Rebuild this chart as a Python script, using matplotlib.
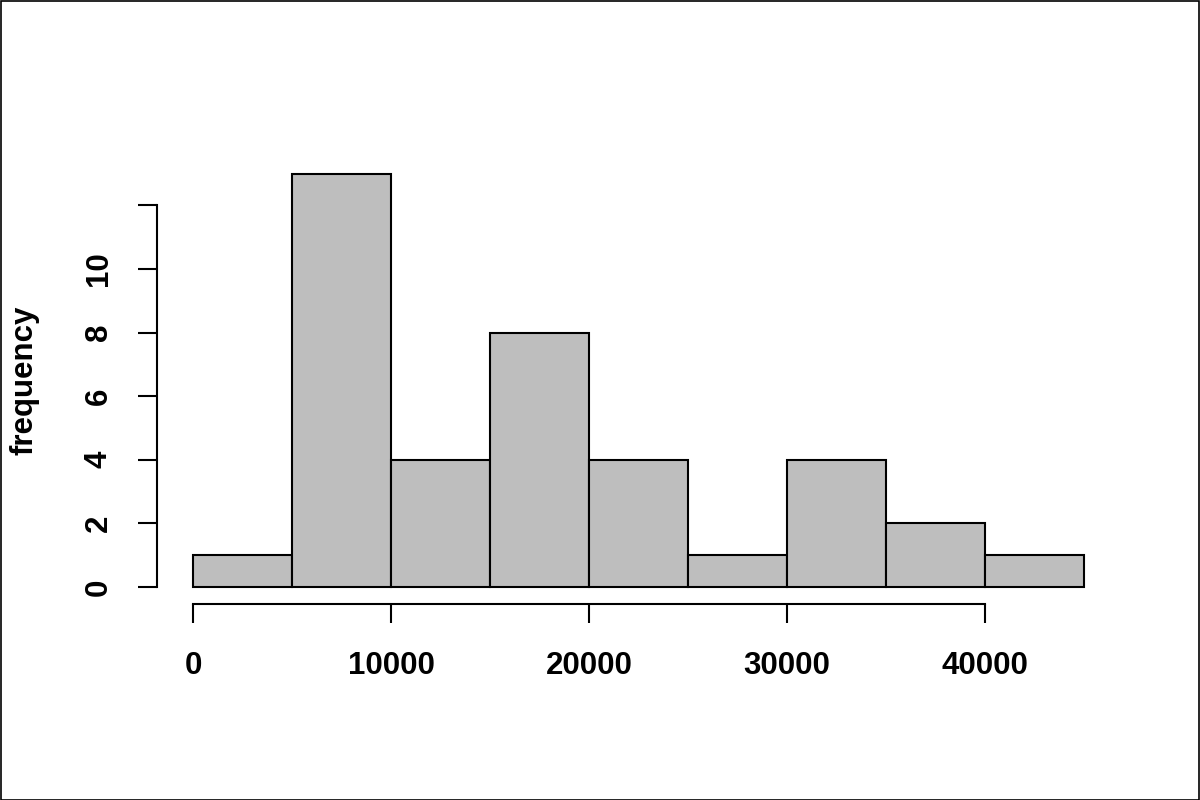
import numpy as np
import matplotlib.pyplot as plt
from matplotlib.patches import Rectangle

plt.rcParams['font.family'] = ['Liberation Sans', 'DejaVu Sans']
plt.rcParams['font.weight'] = 'bold'

edges = [0, 5000, 10000, 15000, 20000, 25000, 30000, 35000, 40000, 45000]
counts = [1, 13, 4, 8, 4, 1, 4, 2, 1]
xticks = [0, 10000, 20000, 30000, 40000]
yticks = [0, 2, 4, 6, 8, 10, 12]
ylabels = ['0', '2', '4', '6', '8', '10', '']

W, H = 1200, 800
fig = plt.figure(figsize=(12, 8), dpi=100)
left, right, top, bottom = 157.4, 1119.6, 157.0, 603.5
ax = fig.add_axes([left / W, 1 - bottom / H, (right - left) / W, (bottom - top) / H])

ax.bar(edges[:-1], counts, width=np.diff(edges), align='edge',
       color='#bebebe', edgecolor='black', linewidth=1.5)

ax.set_xlim(-1800, 46800)
ax.set_ylim(-0.52, 13.52)

for s in ['top', 'right']:
    ax.spines[s].set_visible(False)
ax.spines['left'].set_bounds(0, 12)
ax.spines['bottom'].set_bounds(0, 40000)
for s in ['left', 'bottom']:
    ax.spines[s].set_linewidth(1.5)

ax.set_xticks(xticks)
ax.set_xticklabels([str(v) for v in xticks])
ax.set_yticks(yticks)
ax.set_yticklabels(ylabels, rotation=90, va='center')
ax.tick_params(axis='x', length=14, width=1.5, pad=20, labelsize=22.5)
ax.tick_params(axis='y', length=13.5, width=1.5, pad=18, labelsize=22.5)

fig.text(25 / W, 1 - 380 / H, 'frequency', rotation=90, ha='center', va='center',
         fontsize=22.5, fontweight='bold')

fig.patches.append(Rectangle((0.5 / W, 0.5 / H), 1 - 1.5 / W, 1 - 1.5 / H,
                             transform=fig.transFigure, fill=False,
                             edgecolor='black', linewidth=1.2))

fig.savefig('out.png', dpi=100)
